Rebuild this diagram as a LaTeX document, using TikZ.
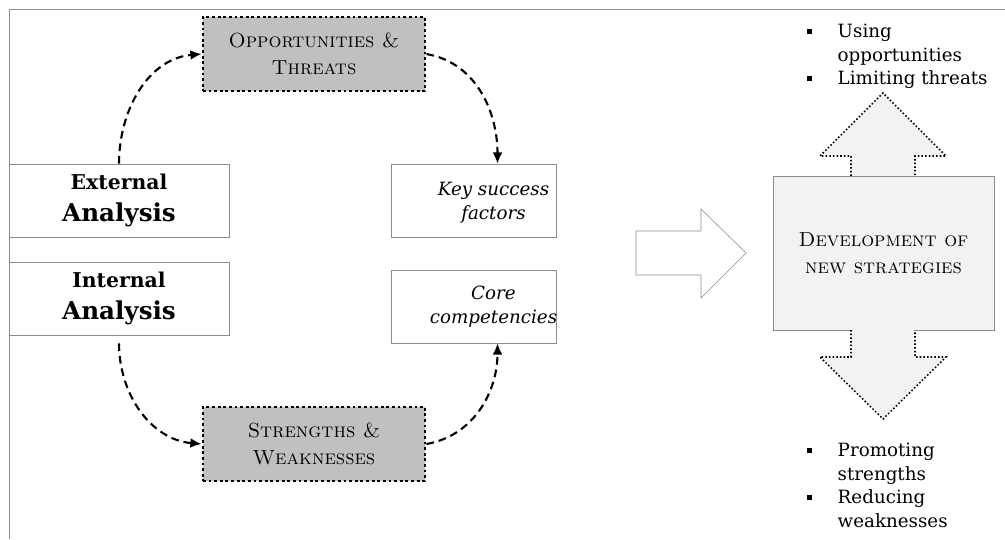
\documentclass[tikz,border=0pt]{standalone}
\usepackage{fontspec}
\newfontfamily\dvfont{DejaVu Serif}
\usetikzlibrary{arrows.meta}
\definecolor{framegray}{HTML}{8C8C8C}
\definecolor{darkfill}{HTML}{C0C0C0}
\definecolor{lightfill}{HTML}{F2F2F2}
\newcommand{\sqbullet}{\rule[0.2em]{3.5pt}{3.5pt}}

\begin{document}
\begin{tikzpicture}[>={Latex[length=8pt,width=7pt]},
  analysis/.style={draw=framegray, minimum width=5.5cm, minimum height=1.825cm, align=center, font=\dvfont\bfseries\fontsize{17.5}{22.8}\selectfont},
  factor/.style={draw=framegray, minimum width=4.125cm, minimum height=1.825cm},
  factortext/.style={align=center, inner sep=0pt, font=\dvfont\itshape\fontsize{13}{17.5}\selectfont},
  swot/.style={draw, fill=darkfill, line width=2pt, dash pattern=on 2pt off 2pt, minimum width=5.55cm, minimum height=1.85cm, align=center, font=\rmfamily\scshape\fontsize{14.5}{19}\selectfont},
  flow/.style={->, line width=1.5pt, dash pattern=on 5.5pt off 3.5pt},
  dotarrow/.style={line width=1.1pt, dash pattern=on 1.1pt off 1.5pt},
  bullets/.style={anchor=north west, inner sep=0pt, align=left, font=\dvfont\fontsize{13}{16.7}\selectfont}]
\useasboundingbox (0,0) rectangle (25.125,13.475);
\draw[framegray] (0.225,0)--(0.225,13.25)--(25.125,13.25);
% left column
\node[analysis] (ext) at (2.975,8.4625){{\fontsize{14.5}{22.8}\selectfont External}\\Analysis};
\node[analysis] (int) at (2.975,6.0125){{\fontsize{14.5}{22.8}\selectfont Internal}\\Analysis};
\node[swot] (opp) at (7.85,12.125){Opportunities \&\\Threats};
\node[swot] (sw) at (7.85,2.375){Strengths \&\\Weaknesses};
\node[factor] (key) at (11.8375,8.4625){};
\node[factortext] at ([xshift=0.5cm,yshift=-0.06cm]key.center){Key success\\factors};
\node[factor] (core) at (11.8375,5.8125){};
\node[factortext] at ([xshift=0.5cm]core.center){Core\\competencies};
\draw[flow] (ext.north) to[out=90,in=185] (opp.west);
\draw[flow] (opp.east) to[out=-10,in=90] ([xshift=0.6cm]key.north);
\draw[flow] ([yshift=-0.2cm]int.south) to[out=-90,in=175] (sw.west);
\draw[flow] (sw.east) to[out=10,in=-90] ([xshift=0.6cm]core.south);
% big arrow
\draw[framegray] (15.9,7.7)--(17.525,7.7)--(17.525,8.25)--(18.65,7.15)--(17.525,6.025)--(17.525,6.6)--(15.9,6.6)--cycle;
% strategies
\node[draw=framegray, fill=lightfill, minimum width=5.525cm, minimum height=3.85cm, align=center,
  font=\rmfamily\scshape\fontsize{14.5}{19}\selectfont] (dev) at (22.0875,7.15){Development of\\new strategies};
\fill[lightfill] (21.275,9.075)--(21.275,9.575)--(20.5,9.575)--(22.075,11.15)--(23.65,9.575)--(22.875,9.575)--(22.875,9.075)--cycle;
\draw[dotarrow] (21.275,9.075)--(21.275,9.575)--(20.5,9.575)--(22.075,11.15)--(23.65,9.575)--(22.875,9.575)--(22.875,9.075);
\fill[lightfill] (21.275,5.225)--(21.275,4.55)--(20.5,4.55)--(22.075,3.0)--(23.65,4.55)--(22.875,4.55)--(22.875,5.225)--cycle;
\draw[dotarrow] (21.275,5.225)--(21.275,4.55)--(20.5,4.55)--(22.075,3.0)--(23.65,4.55)--(22.875,4.55)--(22.875,5.225);
\node[bullets] (use) at (20.18,12.95){\begin{tabular}{@{}l@{\hspace{18pt}}l@{}}\sqbullet & Using\\ & opportunities\\\sqbullet & Limiting threats\end{tabular}};
\node[bullets] (promote) at (20.18,2.475){\begin{tabular}{@{}l@{\hspace{18pt}}l@{}}\sqbullet & Promoting\\ & strengths\\\sqbullet & Reducing\\ & weaknesses\end{tabular}};
\end{tikzpicture}
\end{document}
